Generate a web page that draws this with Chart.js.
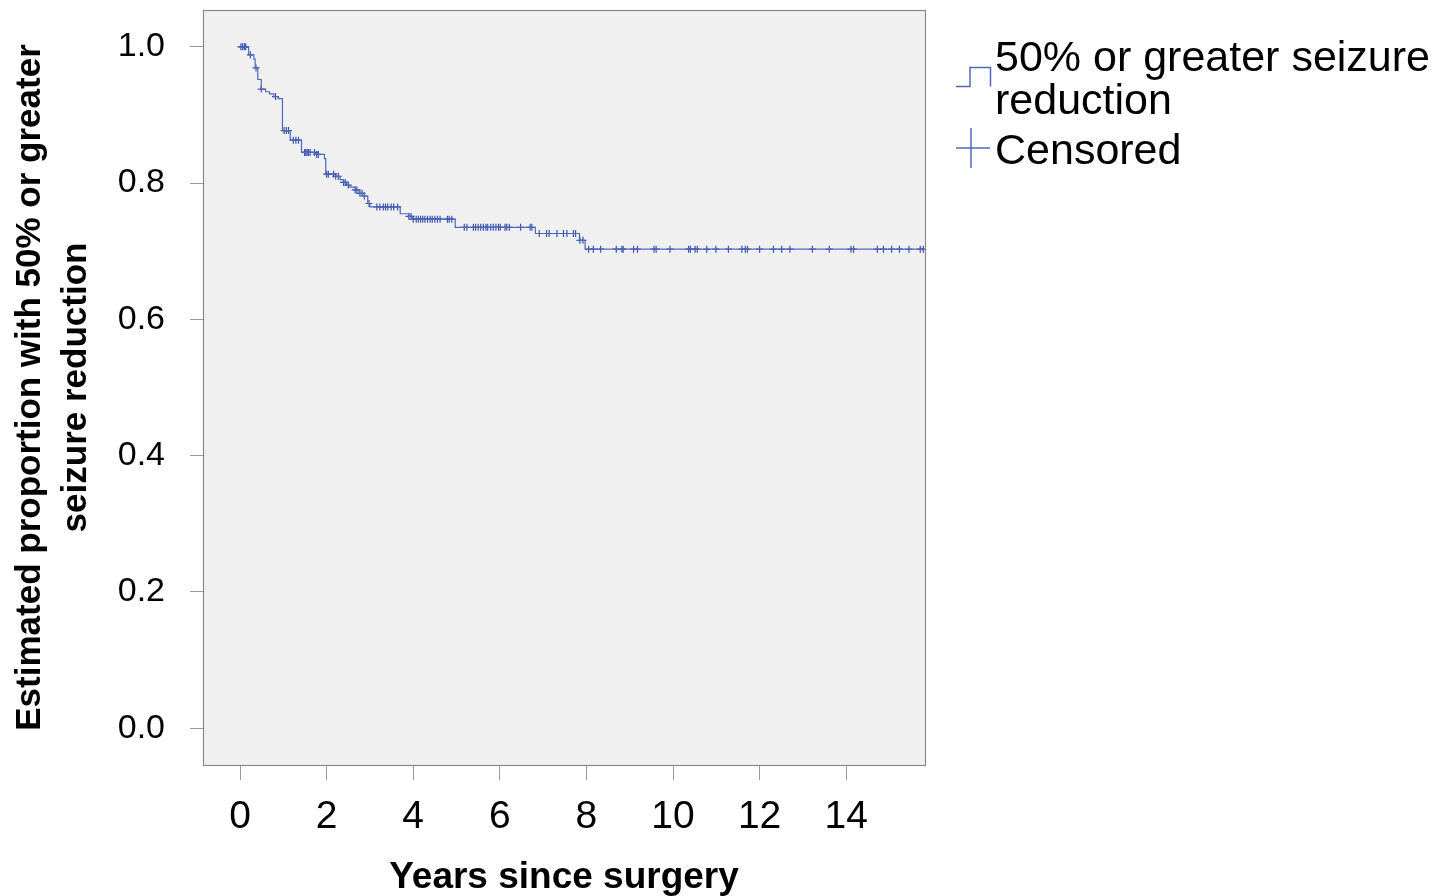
<!DOCTYPE html>
<html>
<head>
<meta charset="utf-8">
<script src="https://cdn.jsdelivr.net/npm/chart.js@4/dist/chart.umd.min.js"></script>
<style>
  body { margin: 0; background: #fff; }
  #wrap { position: relative; width: 1454px; height: 896px; }
  #kmChart { position: absolute; left: 0; top: 0; }
  .leg { position: absolute; left: 995px; font-family: "Liberation Sans", Arial, sans-serif; font-size: 43px; line-height: 43px; color: #000; white-space: nowrap; }
  .sym { position: absolute; left: 950px; }
</style>
</head>
<body>
<div id="wrap">
  <canvas id="kmChart" width="1454" height="896"></canvas>
  <svg class="sym" style="top:60px" width="50" height="34">
    <polyline points="6,26.5 20,26.5 20,7.5 40.5,7.5 40.5,26.5" fill="none" stroke="rgb(80,104,188)" stroke-width="1.5"/>
  </svg>
  <svg class="sym" style="top:124px" width="50" height="50">
    <line x1="6" y1="24" x2="40" y2="24" stroke="rgb(80,104,188)" stroke-width="1.5"/>
    <line x1="21" y1="4" x2="21" y2="44" stroke="rgb(80,104,188)" stroke-width="1.5"/>
  </svg>
  <div class="leg" id="leg1" style="top:35px"></div>
  <div class="leg" id="leg2" style="top:128px"></div>
</div>
<script>
// Kaplan-Meier step data (years since surgery, estimated proportion after the step)
const stepTimes = [0, 0.20, 0.32, 0.35, 0.41, 0.49, 0.59, 0.68, 0.78, 0.88, 0.98, 1.16, 1.42, 1.73, 1.95, 1.98,
  2.20, 2.31, 2.39, 2.46, 2.54, 2.66, 2.75, 2.87, 2.95, 3.00, 3.70, 3.90, 3.97, 4.97, 6.82, 7.84, 7.97, 15.85];
const stepSurv = [1.0, 0.988, 0.982, 0.969, 0.952, 0.938, 0.934, 0.931, 0.927, 0.924, 0.877, 0.863, 0.845, 0.842, 0.836, 0.813,
  0.810, 0.805, 0.801, 0.797, 0.794, 0.790, 0.785, 0.781, 0.770, 0.765, 0.755, 0.751, 0.747, 0.735, 0.726, 0.716, 0.703, 0.703];

// censored observation times
const censorTimes = [0.02, 0.06, 0.10, 0.13, 0.24, 0.37, 0.49, 0.82, 1.02, 1.07, 1.12, 1.23, 1.29, 1.35,
  1.49, 1.52, 1.55, 1.58, 1.62, 1.72, 1.77, 1.81, 2.00, 2.04, 2.16, 2.21, 2.27, 2.39, 2.43, 2.50, 2.66,
  2.70, 2.77, 2.82, 2.87, 2.98, 3.16, 3.23, 3.31, 3.36, 3.41, 3.49, 3.55, 3.64, 3.90, 3.95, 4.00, 4.07,
  4.12, 4.17, 4.22, 4.27, 4.33, 4.39, 4.44, 4.50, 4.56, 4.62, 4.79, 4.83, 4.89, 5.18, 5.24, 5.39, 5.44,
  5.50, 5.56, 5.62, 5.68, 5.72, 5.79, 5.85, 5.91, 5.97, 6.01, 6.12, 6.16, 6.22, 6.48, 6.70, 6.74, 6.91,
  7.08, 7.14, 7.32, 7.47, 7.55, 7.70, 7.75, 7.85, 7.92, 8.05, 8.16, 8.33, 8.69, 8.82, 8.85, 9.09, 9.18,
  9.56, 9.61, 9.93, 10.36, 10.40, 10.51, 10.56, 10.78, 10.99, 11.28, 11.59, 11.67, 11.72, 12.00, 12.32,
  12.51, 12.70, 13.22, 13.61, 14.11, 14.17, 14.72, 14.86, 15.05, 15.23, 15.45, 15.71, 15.78];

const xTicks = [0, 2, 4, 6, 8, 10, 12, 14];
const yTicks = [0, 0.2, 0.4, 0.6, 0.8, 1.0];
const xTitle = 'Years since surgery';
const yTitle = ['Estimated proportion with 50% or greater', 'seizure reduction'];
const seriesLabel = ['50% or greater seizure', 'reduction'];
const censorLabel = 'Censored';

document.getElementById('leg1').innerHTML = seriesLabel.join('<br>');
document.getElementById('leg2').textContent = censorLabel;

function survivalAt(t) {
    let s = stepSurv[0];
    for (let i = 0; i < stepTimes.length; i++) {
        if (stepTimes[i] <= t) s = stepSurv[i];
    }
    return s;
}

const lineColor = 'rgb(80,104,188)';

const plotBox = {
    id: 'plotBox',
    beforeDraw(chart) {
        const a = chart.chartArea;
        const ctx = chart.ctx;
        ctx.save();
        ctx.fillStyle = '#f0f0f0';
        ctx.fillRect(a.left, a.top, a.right - a.left, a.bottom - a.top);
        ctx.restore();
    },
    afterDraw(chart) {
        const a = chart.chartArea;
        const ctx = chart.ctx;
        ctx.save();
        ctx.strokeStyle = '#8a8a8a';
        ctx.lineWidth = 1.2;
        ctx.strokeRect(a.left + 0.5, a.top + 0.5, a.right - a.left, a.bottom - a.top);
        ctx.restore();
    }
};

const ctx = document.getElementById('kmChart').getContext('2d');
const kmChart = new Chart(ctx, {
    type: 'line',
    data: {
        datasets: [{
            label: seriesLabel.join(' '),
            data: stepTimes.map((t, i) => ({ x: t, y: stepSurv[i] })),
            stepped: 'before',
            borderColor: lineColor,
            borderWidth: 1.2,
            pointRadius: 0,
            fill: false
        }, {
            label: censorLabel,
            data: censorTimes.map(t => ({ x: t, y: survivalAt(t) })),
            showLine: false,
            pointStyle: 'cross',
            pointRadius: 3.5,
            borderColor: 'rgb(60,85,175)',
            borderWidth: 1.2
        }]
    },
    options: {
        responsive: false,
        animation: false,
        layout: { padding: { left: 0, top: 10, right: 529, bottom: 0 } },
        plugins: { legend: { display: false }, tooltip: { enabled: false } },
        scales: {
            x: {
                type: 'linear',
                min: -0.855,
                max: 15.82,
                afterBuildTicks: s => { s.ticks = xTicks.map(v => ({ value: v })); },
                afterFit: s => { s.height = 131; s.paddingLeft = 0; s.paddingRight = 0; },
                grid: { drawOnChartArea: false, drawTicks: true, tickLength: 15, tickColor: '#9a9a9a' },
                border: { display: false },
                ticks: {
                    color: '#000',
                    padding: 14,
                    maxRotation: 0,
                    font: { family: '"Liberation Sans", Arial', size: 39 }
                },
                title: {
                    display: true,
                    text: xTitle,
                    color: '#000',
                    padding: { top: 0, bottom: 0 },
                    font: { family: '"Liberation Sans", Arial', size: 37, weight: 'bold', lineHeight: 1.0 }
                }
            },
            y: {
                type: 'linear',
                min: -0.054,
                max: 1.054,
                afterBuildTicks: s => { s.ticks = yTicks.map(v => ({ value: v })); },
                afterFit: s => { s.width = 203; s.paddingTop = 0; s.paddingBottom = 0; },
                grid: { drawOnChartArea: false, drawTicks: true, tickLength: 13, tickColor: '#9a9a9a' },
                border: { display: false },
                ticks: {
                    color: '#000',
                    padding: 25,
                    callback: v => v.toFixed(1),
                    font: { family: '"Liberation Sans", Arial', size: 34 }
                },
                title: {
                    display: true,
                    text: yTitle,
                    color: '#000',
                    padding: { top: 8, bottom: 0 },
                    font: { family: '"Liberation Sans", Arial', size: 35, weight: 'bold', lineHeight: 1.3 }
                }
            }
        }
    },
    plugins: [plotBox]
});
</script>
</body>
</html>
